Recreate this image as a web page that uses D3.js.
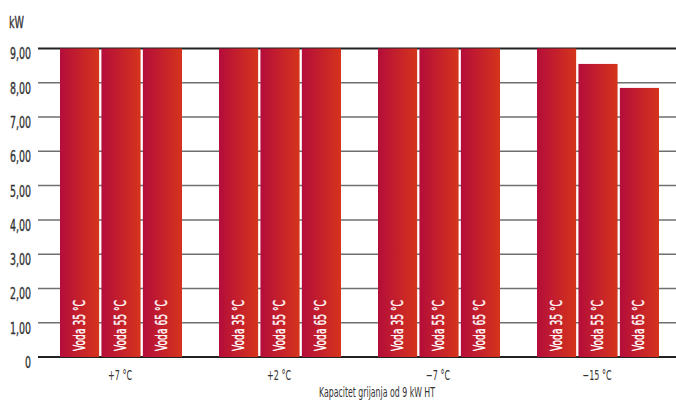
<!DOCTYPE html>
<html>
<head>
<meta charset="utf-8">
<script src="https://cdn.jsdelivr.net/npm/d3@7/dist/d3.min.js"></script>
<style>
  html, body { margin: 0; padding: 0; background: #fff; }
  svg { display: block; }
  text { font-family: "Liberation Sans Narrow", "DejaVu Sans Condensed", "Roboto", sans-serif; }
</style>
</head>
<body>
<svg id="chart" width="676" height="403"></svg>
<script>
// Outdoor temperature groups and water temperature series
const groups = ["+7 °C", "+2 °C", "−7 °C", "−15 °C"];
const series = ["Voda 35 °C", "Voda 55 °C", "Voda 65 °C"];
const voda35 = [9.0, 9.0, 9.0, 9.0];
const voda55 = [9.0, 9.0, 9.0, 8.55];
const voda65 = [9.0, 9.0, 9.0, 7.85];
const yTicks = [0, 1, 2, 3, 4, 5, 6, 7, 8, 9];
const yTickLabels = ["0", "1,00", "2,00", "3,00", "4,00", "5,00", "6,00", "7,00", "8,00", "9,00"];
const unitLabel = "kW";
const axisTitle = "Kapacitet grijanja od 9 kW HT";

const seriesValues = [voda35, voda55, voda65];
const rows = groups.map((g, i) => ({
  group: g,
  bars: series.map((s, j) => ({ series: s, value: seriesValues[j][i] }))
}));

const svg = d3.select("#chart");
const plotLeft = 38, plotRight = 676, plotTop = 48.5, plotBottom = 357;

const x0 = d3.scaleBand().domain(groups).range([41.5, 677.5]).padding(0);
const x1 = d3.scaleBand().domain(series).range([18.5, x0.bandwidth() - 18.5]).paddingInner(0.055).paddingOuter(0);
const y = d3.scaleLinear().domain([0, 9]).range([plotBottom, plotTop]);

// Squeeze text horizontally so the face reads as a condensed one
function condense(sel, factor) {
  sel.each(function () {
    const len = this.getComputedTextLength();
    d3.select(this).attr("textLength", len * factor).attr("lengthAdjust", "spacingAndGlyphs");
  });
}
function fitTo(sel, sample, width) {
  const probe = svg.append("text").attr("font-size", sel.attr("font-size")).text(sample);
  const len = probe.node().getComputedTextLength();
  probe.remove();
  condense(sel, width / len);
}
// Slightly heavier strokes for a medium-weight look
function thicken(sel, color) {
  sel.attr("stroke", color).attr("stroke-width", 0.35).attr("paint-order", "stroke");
}

// Bar fill: crimson to orange-red across each bar
const defs = svg.append("defs");
const grad = defs.append("linearGradient")
  .attr("id", "barFill").attr("x1", "0").attr("y1", "0").attr("x2", "1").attr("y2", "0");
grad.append("stop").attr("offset", "0%").attr("stop-color", "#b40d3a");
grad.append("stop").attr("offset", "100%").attr("stop-color", "#d5341c");

// Gridlines
svg.append("g").selectAll("line").data(yTicks).join("line")
  .attr("x1", plotLeft).attr("x2", plotRight)
  .attr("y1", d => y(d)).attr("y2", d => y(d))
  .attr("stroke", d => (d === 0 || d === 9) ? "#222" : "#6f6f6f")
  .attr("stroke-width", d => (d === 0 || d === 9) ? 2 : 1.5);

// Y axis labels
const yAxis = d3.axisLeft(y).tickValues(yTicks).tickSize(0).tickFormat((d, i) => yTickLabels[i]);
const ay = svg.append("g").attr("transform", "translate(31,5)").call(yAxis);
ay.select(".domain").remove();
const yLabels = ay.selectAll("text")
  .attr("x", 0).attr("dy", "0.35em")
  .attr("font-size", 15.5).attr("fill", "#333")
  .style("font-family", "'Liberation Sans Narrow', 'DejaVu Sans Condensed', sans-serif");
fitTo(yLabels, "9,00", 21);
thicken(yLabels, "#333");

// Bars
const g = svg.append("g").selectAll("g").data(rows).join("g")
  .attr("transform", d => `translate(${x0(d.group)},0)`);

g.selectAll("rect").data(d => d.bars).join("rect")
  .attr("x", d => x1(d.series))
  .attr("width", x1.bandwidth())
  .attr("y", d => y(d.value))
  .attr("height", d => y(0) - y(d.value))
  .attr("fill", "url(#barFill)");

// Series names written up inside each bar
const inBar = g.selectAll("text.inbar").data(d => d.bars).join("text")
  .attr("class", "inbar")
  .attr("transform", d => `translate(${x1(d.series) + x1.bandwidth() / 2 + 5},${y(0) - 6}) rotate(-90)`)
  .attr("text-anchor", "start")
  .attr("font-size", 15.5)
  .attr("fill", "#fff")
  .text(d => d.series);
fitTo(inBar, "Voda 35 °C", 51);
thicken(inBar, "#fff");

// Group labels
const gLabels = svg.append("g").selectAll("text").data(groups).join("text")
  .attr("x", d => x0(d) + x0.bandwidth() / 2 - 1)
  .attr("y", 380)
  .attr("text-anchor", "middle")
  .attr("font-size", 14)
  .attr("fill", "#333")
  .text(d => d);
fitTo(gLabels, "+2 °C", 24);

// Titles
const unitText = svg.append("text").attr("x", 9).attr("y", 28)
  .attr("font-size", 16).attr("fill", "#333").text(unitLabel);
fitTo(unitText, unitLabel, 15);
thicken(unitText, "#333");
const titleText = svg.append("text").attr("x", 377).attr("y", 397)
  .attr("text-anchor", "middle")
  .attr("font-size", 13.5).attr("fill", "#333").text(axisTitle);
fitTo(titleText, axisTitle, 116);
</script>
</body>
</html>
